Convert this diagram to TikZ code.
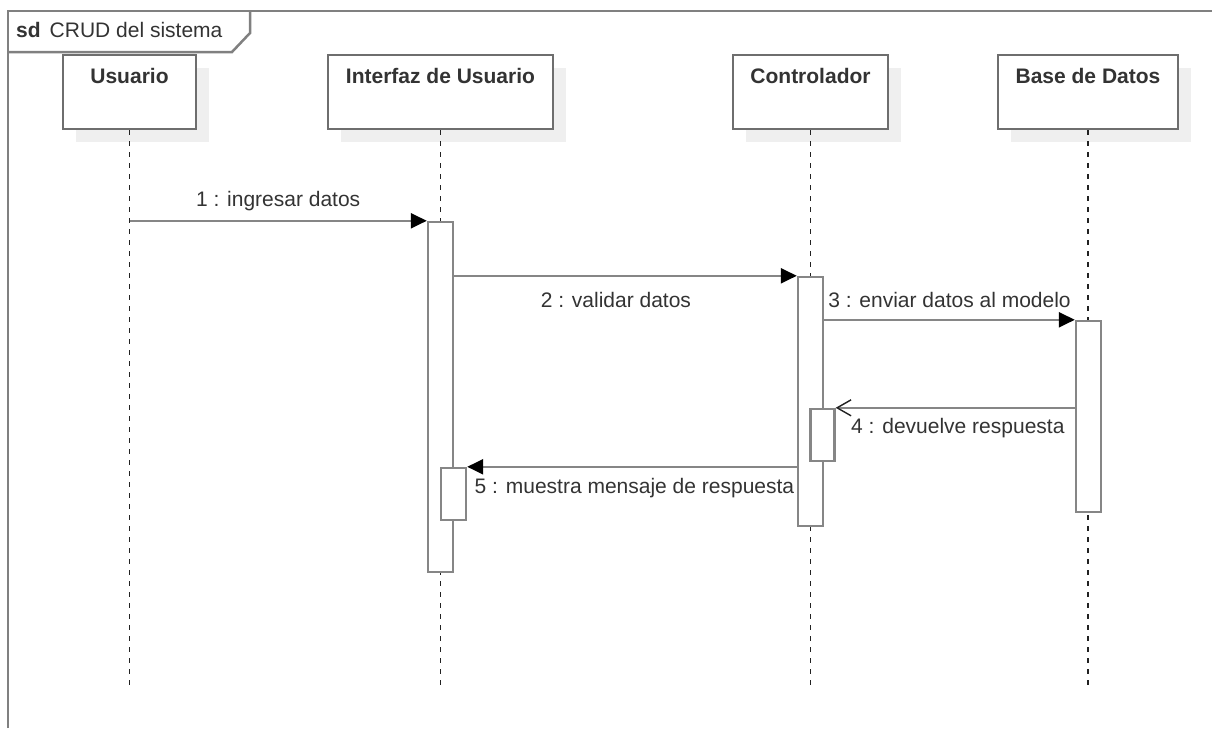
\documentclass[tikz,border=0pt]{standalone}
\usepackage{fontspec}
\setmainfont{Liberation Sans}
\usetikzlibrary{arrows.meta,shadows}
\definecolor{linegray}{HTML}{868686}
\definecolor{boxgray}{HTML}{6E6E6E}
\definecolor{framegray}{HTML}{808080}
\definecolor{txt}{HTML}{333333}
\definecolor{shade}{HTML}{EFEFEF}
\definecolor{dashcol}{HTML}{222222}

\begin{document}
\begin{tikzpicture}[x=1pt,y=-1pt,
  every node/.style={font=\fontsize{21}{25}\selectfont, text=txt},
  frame/.style={draw=framegray, line width=2.5pt, line join=miter},
  head/.style={draw=boxgray, line width=2.6pt, fill=white, minimum height=74pt,
    inner sep=0pt, general shadow={fill=shade, shadow xshift=13pt, shadow yshift=-13pt}},
  headtxt/.style={font=\fontsize{21}{25}\selectfont\bfseries, text=txt, anchor=north, yshift=-11pt},
  lifeline/.style={draw=dashcol, line width=1.7pt, dash pattern=on 5pt off 6pt},
  actbar/.style={draw=linegray, line width=2.4pt, fill=white, minimum width=25pt, inner sep=0pt},
  msg/.style={draw=linegray, line width=2.4pt},
  synch/.style={msg, -{Triangle[length=16pt,width=15pt,color=black]}},
  reply/.style={msg, -{Straight Barb[length=14pt,width=16pt,line width=1.4pt,color=dashcol]}}
]
\useasboundingbox (0,0) rectangle (1212,728);

% diagram frame with its name tab
\draw[frame] (8,728) -- (8,11) -- (1212,11);
\draw[frame] (8,52) -- (232,52) -- (250,33) -- (250,11);
\node[anchor=west, inner sep=0pt] (title) at (16,30)
  {\textbf{sd}\hspace{9pt}CRUD del sistema};

% participants
\node[head, minimum width=133pt, label={[headtxt]north:Usuario}] (hu) at (129.5,92) {};
\node[head, minimum width=225pt, label={[headtxt]north:Interfaz de Usuario}] (hi) at (440.5,92) {};
\node[head, minimum width=155pt, label={[headtxt]north:Controlador}] (hc) at (810.5,92) {};
\node[head, minimum width=180pt, label={[headtxt]north:Base de Datos}] (hb) at (1088,92) {};

% lifelines
\coordinate (eu) at (hu.south |- 0,688);
\coordinate (ei) at (hi.south |- 0,688);
\coordinate (ec) at (hc.south |- 0,688);
\coordinate (eb) at (hb.south |- 0,688);
\draw[lifeline] (hu.south) -- (eu);
\draw[lifeline] (hi.south) -- (ei);
\draw[lifeline] (hc.south) -- (ec);
\draw[lifeline] (hb.south) -- (eb);

% activation bars
\node[actbar, minimum height=350pt] (b1) at (440.5,397) {};
\node[actbar, minimum height=249pt] (b2) at (810.5,401.5) {};
\node[actbar, minimum height=191pt] (b3) at (1088.5,416.5) {};
\node[actbar, minimum width=24pt, minimum height=52pt] (b4) at (822.5,435) {};
\node[actbar, minimum height=52pt] (b5) at (453.5,494) {};

% messages
\draw[synch] (hu.south |- b1.north) -- (b1.north west)
  node[midway, above=5pt] {1 : ingresar datos};
\draw[synch] (b1.east |- b2.north) -- (b2.north west)
  node[pos=0.472, below=12pt] {2 : validar datos};
\draw[synch] (b2.east |- b3.north) -- (b3.north west)
  node[midway, above=8pt] {3 : enviar datos al modelo};
\draw[reply] (b3.west |- b4.north) -- (b4.north east)
  node[at end, anchor=north west, xshift=11pt, yshift=-5.5pt] {4 : devuelve respuesta};
\draw[synch] (b2.west |- b5.north) -- (b5.north east)
  node[at end, anchor=north west, xshift=3pt, yshift=-6.5pt] {5 : muestra mensaje de respuesta};
\end{tikzpicture}
\end{document}
